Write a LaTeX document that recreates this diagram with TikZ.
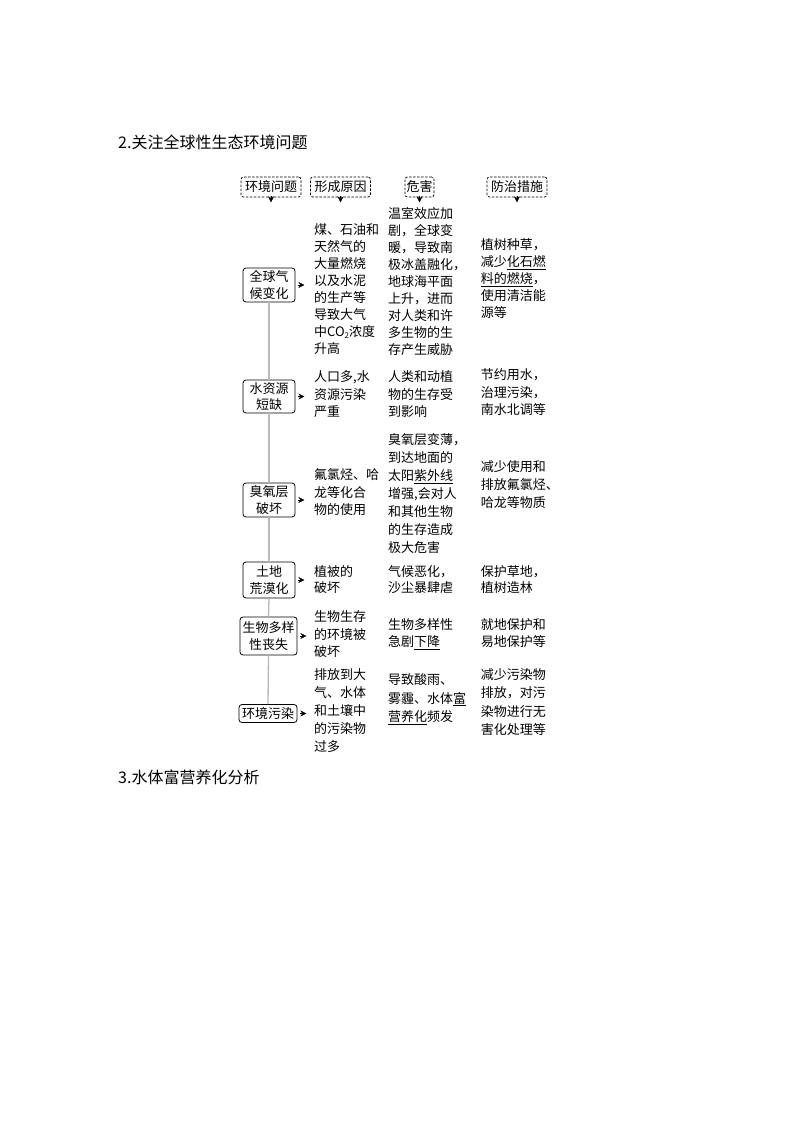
\documentclass[tikz,border=0pt]{standalone}
\usepackage{fontspec}
\setmainfont{Noto Sans CJK SC}
\usetikzlibrary{arrows.meta}
\tikzset{
  txt/.style={anchor=north west, inner sep=0pt, align=left, font=\fontsize{13}{#1}\selectfont},
  hdr/.style={draw, line width=0.7pt, dash pattern=on 2.5pt off 1.5pt, rounded corners=2.5pt, inner sep=0pt, minimum height=20pt, font=\fontsize{13}{15}\selectfont},
  topic/.style={draw, line width=0.8pt, rounded corners=3pt, align=center, inner sep=0pt, font=\fontsize{13}{16.7}\selectfont},
  tip/.style={-{Stealth[length=6pt,width=6pt]}},
  link/.style={draw=gray!55, line width=1.3pt},
  title/.style={anchor=base west, inner sep=0pt, font=\fontsize{16}{18}\selectfont}
}
\newcommand{\sub}[1]{\raisebox{-1.5pt}{\fontsize{8}{8}\selectfont #1}}
\begin{document}
\begin{tikzpicture}[x=1pt,y=-1pt]
\useasboundingbox[fill=white] (0,0) rectangle (794,1123);

\node[title] (t2) at (118,149) {2.关注全球性生态环境问题};
\node[title] (t3) at (118,783) {3.水体富营养化分析};

% headers
\node[hdr, minimum width=60pt] (h1) at (271,187) {环境问题};
\node[hdr, minimum width=60pt] (h2) at (340.5,187) {形成原因};
\node[hdr, minimum width=29pt] (h3) at (419.5,187) {危害};
\node[hdr, minimum width=60pt] (h4) at (517,187) {防治措施};
\foreach \h in {h1,h2,h3,h4}{
  \draw[tip] ([yshift=1pt]\h.south) -- ++(0,6);
}

% topic boxes
\node[topic, minimum width=52pt, minimum height=34pt] (b1) at (269,285) {全球气\\候变化};
\node[topic, minimum width=52pt, minimum height=33pt] (b2) at (269,396.5) {水资源\\短缺};
\node[topic, minimum width=52pt, minimum height=34pt] (b3) at (269,500) {臭氧层\\破坏};
\node[topic, minimum width=52pt, minimum height=36pt] (b4) at (269,580) {土地\\荒漠化};
\node[topic, minimum width=57pt, minimum height=38pt] (b5) at (268.5,636) {生物多样\\性丧失};
\node[topic, minimum width=58pt, minimum height=18pt] (b6) at (268,713.5) {环境污染};

\draw[link] (b1.south) -- (b2.north);
\draw[link] (b2.south) -- (b3.north);
\draw[link] (b3.south) -- (b4.north);
\draw[link] (b4.south) -- (b5.north);
\draw[link] (b5.south) -- (b6.north);

\foreach \b in {b1,b2,b3,b4,b5,b6}{
  \draw[tip] ([xshift=3pt]\b.east) -- ++(6,0);
}

% row 1
\node[txt=17] (c1) at (314,223.5) {煤、石油和\\天然气的\\大量燃烧\\以及水泥\\的生产等\\导致大气\\中CO\sub{2}浓度\\升高};
\node[txt=17] (d1) at (388,207.5) {温室效应加\\剧，全球变\\暖，导致南\\极冰盖融化，\\地球海平面\\上升，进而\\对人类和许\\多生物的生\\存产生威胁};
\node[txt=17] (m1) at (480.7,238.5) {植树种草，\\减少\underline{化石燃}\\\underline{料的燃烧}，\\使用清洁能\\源等};

% row 2
\node[txt=17.5] (c2) at (314,370.5) {人口多,水\\资源污染\\严重};
\node[txt=17.5] (d2) at (388,370.5) {人类和动植\\物的生存受\\到影响};
\node[txt=17.5] (m2) at (480.7,368.5) {节约用水，\\治理污染，\\南水北调等};

% row 3
\node[txt=17.5] (c3) at (314,468.5) {氟氯烃、哈\\龙等化合\\物的使用};
\node[txt=18] (d3) at (388,433.5) {臭氧层变薄，\\到达地面的\\太阳\underline{紫外线}\\增强,会对人\\和其他生物\\的生存造成\\极大危害};
\node[txt=18] (m3) at (480.7,460.5) {减少使用和\\排放氟氯烃、\\哈龙等物质};

% row 4
\node[txt=16] (c4) at (314,565.5) {植被的\\破坏};
\node[txt=16] (d4) at (388,565.5) {气候恶化，\\沙尘暴肆虐};
\node[txt=16] (m4) at (480.7,565.5) {保护草地，\\植树造林};

% row 5
\node[txt=17.5] (c5) at (314,610.5) {生物生存\\的环境被\\破坏};
\node[txt=17] (d5) at (388,618.5) {生物多样性\\急剧\underline{下降}};
\node[txt=17] (m5) at (480.7,618.5) {就地保护和\\易地保护等};

% row 6
\node[txt=18] (c6) at (314,668.5) {排放到大\\气、水体\\和土壤中\\的污染物\\过多};
\node[txt=18.5] (d6) at (388,673.5) {导致酸雨、\\雾霾、水体\underline{富}\\\underline{营养化}频发};
\node[txt=18.3] (m6) at (480.7,668.5) {减少污染物\\排放，对污\\染物进行无\\害化处理等};
\end{tikzpicture}
\end{document}
